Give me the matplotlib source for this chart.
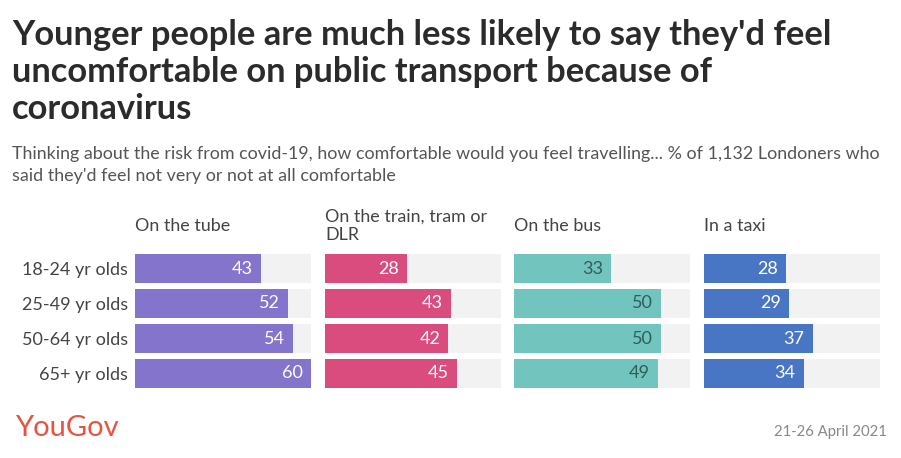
import matplotlib.pyplot as plt

plt.rcParams["font.family"] = ["Lato", "DejaVu Sans"]

W, H = 901, 458

age_groups = ["18-24 yr olds", "25-49 yr olds", "50-64 yr olds", "65+ yr olds"]
modes = ["On the tube", "On the train, tram or\nDLR", "On the bus", "In a taxi"]
tube = [43, 52, 54, 60]
train = [28, 43, 42, 45]
bus = [33, 50, 50, 49]
taxi = [28, 29, 37, 34]

series = [tube, train, bus, taxi]
colors = ["#8474cc", "#da4c7e", "#72c4be", "#4876c4"]
text_colors = ["white", "white", "#2f5e5b", "white"]
panel_left = [135, 325, 514, 704]
panel_width = 176
x_max = 60


def px_axes(fig, x, y, w, h):
    return fig.add_axes([x / W, 1 - (y + h) / H, w / W, h / H])


fig = plt.figure(figsize=(W / 100, H / 100), dpi=100)
fig.patch.set_facecolor("white")

fig.text(12 / W, 1 - 19 / H,
         "Younger people are much less likely to say they'd feel\n"
         "uncomfortable on public transport because of\ncoronavirus",
         fontsize=24.8, fontweight="bold", color="#2b2b2b", va="top", ha="left",
         linespacing=1.2)
fig.text(12 / W, 1 - 146 / H,
         "Thinking about the risk from covid-19, how comfortable would you feel travelling... "
         "% of 1,132 Londoners who\nsaid they'd feel not very or not at all comfortable",
         fontsize=12.9, color="#555555", va="top", ha="left", linespacing=1.45)

for k, (vals, col, tcol, left, title) in enumerate(
        zip(series, colors, text_colors, panel_left, modes)):
    ax = px_axes(fig, left, 251, panel_width, 140)
    y = list(range(len(age_groups)))
    ax.barh(y, [x_max] * len(y), height=0.83, color="#f2f2f2")
    ax.barh(y, vals, height=0.83, color=col)
    for yi, v in zip(y, vals):
        ax.annotate(str(v), xy=(v, yi), xytext=(-5.8, 0), textcoords="offset points",
                    ha="right", va="center", fontsize=13, color=tcol)
    ax.set_xlim(0, x_max)
    ax.set_ylim(3.5, -0.5)
    ax.set_xticks([])
    for s in ax.spines.values():
        s.set_visible(False)
    if k == 0:
        ax.set_yticks(y)
        ax.set_yticklabels(age_groups, fontsize=13, color="#444444")
        ax.tick_params(axis="y", length=0, pad=5)
    else:
        ax.set_yticks([])
    fig.text(left / W, 1 - 226 / H, title, fontsize=12.9, color="#444444",
             ha="left", va="center", linespacing=1.2)

fig.text(15 / W, 1 - 428 / H, "YouGov", fontsize=21, color="#e8533f",
         ha="left", va="center")
fig.text(887 / W, 1 - 432 / H, "21-26 April 2021", fontsize=10.7, color="#888888",
         ha="right", va="center")

fig.savefig("out.png", dpi=100, facecolor="white")
